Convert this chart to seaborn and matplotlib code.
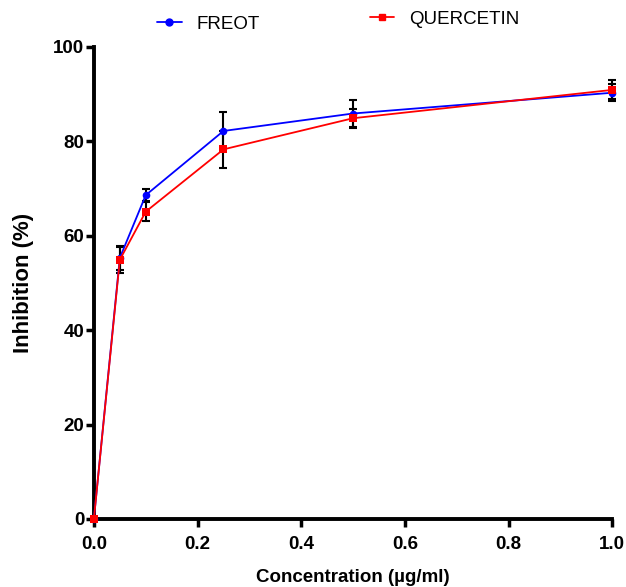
import matplotlib
matplotlib.use("Agg")
import matplotlib.pyplot as plt
import seaborn as sns
import pandas as pd
from matplotlib.lines import Line2D

conc = [0.0, 0.05, 0.1, 0.25, 0.5, 1.0]
freot = [0.0, 55.3, 68.6, 82.2, 85.9, 90.3]
freot_err = [0.0, 2.5, 1.2, 4.0, 2.9, 1.8]
quercetin = [0.0, 54.9, 65.1, 78.3, 84.9, 90.9]
quercetin_err = [0.0, 2.8, 2.0, 3.9, 2.0, 2.0]
series_names = ["FREOT", "QUERCETIN"]
colors = ["#0000ff", "#ff0000"]

sns.set_style("ticks")
plt.rcParams["font.family"] = ["Liberation Sans", "DejaVu Sans"]
for k in ["text.color", "axes.labelcolor", "xtick.color", "ytick.color", "axes.edgecolor"]:
    plt.rcParams[k] = "black"

df = pd.DataFrame({
    "conc": conc + conc,
    "val": freot + quercetin,
    "series": [series_names[0]] * len(conc) + [series_names[1]] * len(conc),
})

fig = plt.figure(figsize=(6.26, 5.87), dpi=100)
ax = fig.add_axes([0.150, 0.116, 0.828, 0.804])

for y, err in [(freot, freot_err), (quercetin, quercetin_err)]:
    ax.errorbar(conc, y, yerr=err, fmt="none", ecolor="black", elinewidth=1.5,
                capsize=3, capthick=1.5, zorder=2, clip_on=False)

sns.lineplot(data=df, x="conc", y="val", hue="series", style="series",
             palette=colors, markers=["o", "s"], dashes=False, markersize=5.5,
             markeredgewidth=0, linewidth=1.3, ax=ax, zorder=3, clip_on=False,
             legend=False)

ax.set_xlim(0, 1.0)
ax.set_ylim(0, 100)
ax.set_xticks([0.0, 0.2, 0.4, 0.6, 0.8, 1.0])
ax.set_xticklabels(["0.0", "0.2", "0.4", "0.6", "0.8", "1.0"])
ax.set_yticks([0, 20, 40, 60, 80, 100])
for lab in ax.get_xticklabels() + ax.get_yticklabels():
    lab.set_fontweight("bold")
    lab.set_fontsize(13.5)
ax.tick_params(axis="both", width=2.5, length=6, color="black")
ax.tick_params(axis="x", pad=6)
ax.tick_params(axis="y", pad=1)
for s in ["left", "bottom"]:
    ax.spines[s].set_linewidth(2.8)
sns.despine(ax=ax)

ax.set_xlabel("Concentration (µg/ml)", fontsize=13.5, fontweight="bold", labelpad=12)
ax.set_ylabel("Inhibition (%)", fontsize=16, fontweight="bold", labelpad=14)

h1 = Line2D([], [], color=colors[0], marker="o", markersize=5, linewidth=1.3)
h2 = Line2D([], [], color=colors[1], marker="s", markersize=5, linewidth=1.3)
common = dict(frameon=False, prop={"size": 13.5}, handlelength=1.3,
              handletextpad=0.8, borderpad=0, borderaxespad=0)
fig.legend([h1], [series_names[0]], loc="center left",
           bbox_to_anchor=(0.251, 0.959), **common)
fig.legend([h2], [series_names[1]], loc="center left",
           bbox_to_anchor=(0.591, 0.967), **common)

fig.savefig("out.png", dpi=100)
